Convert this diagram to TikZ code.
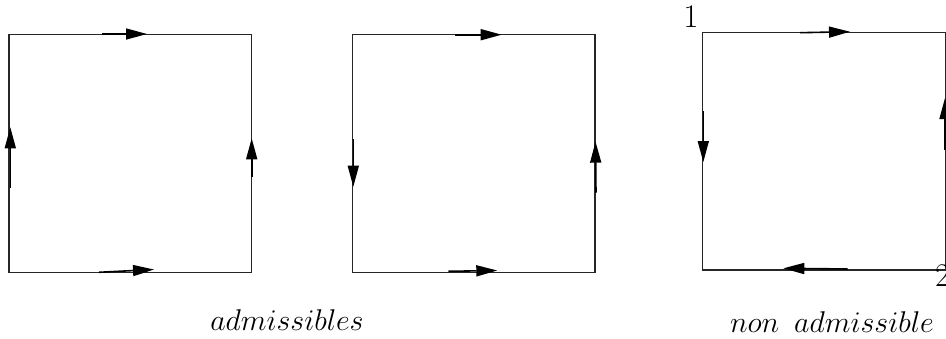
\documentclass[tikz,border=0pt]{standalone}
\DeclareFontShape{OML}{cmm}{m}{it}{<->cmmi12}{}
\usetikzlibrary{arrows.meta}
\begin{document}
\begin{tikzpicture}[x=1pt,y=-1pt,
  edge/.style={line width=1.1pt, black!85},
  arr/.style={line width=1.6pt, -{Triangle[length=21pt,width=11pt]}},
  lbl/.style={inner sep=0pt, anchor=base, font=\fontsize{30}{34}\selectfont},
  num/.style={inner sep=0pt, anchor=base, font=\fontsize{33}{38}\selectfont}]
\useasboundingbox (0,0) rectangle (946,338);
% square 1
\coordinate (a1) at (9,34.7); \coordinate (b1) at (251.7,272.3);
\draw[edge] (a1) rectangle (b1);
\draw[arr] (102,34) -- (147,34);
\draw[arr] (99,272.3) -- (154,269.5);
\draw[arr] (10.3,188) -- (10.3,127.3);
\draw[arr] (251.7,177) -- (251.7,138.3);
% square 2
\coordinate (a2) at (352.3,34.7); \coordinate (b2) at (595,272.3);
\draw[edge] (a2) rectangle (b2);
\draw[arr] (455,34.7) -- (501.7,34.7);
\draw[arr] (448.3,271.3) -- (497.3,270.5);
\draw[arr] (353.3,139.3) -- (353.3,186.7);
\draw[arr] (596,192.7) -- (595.5,141.7);
% square 3
\coordinate (a3) at (702.3,32.3); \coordinate (b3) at (945.3,270);
\draw[edge] (a3) rectangle (b3);
\draw[arr] (800,32.7) -- (850,31.7);
\draw[arr] (847.7,269) -- (783.3,268.3);
\draw[arr] (703.3,111) -- (703.3,162);
\draw[arr] (945,150) -- (945,98);
% labels
\node[num] (one) at (691,27) {1};
\node[num, anchor=base west] (two) at (935,286) {2};
\node[lbl] (adm) at (287,330) {$admissibles$};
\node[lbl] (nonadm) at (832,332) {$non$\hskip0.5em$admissible$};
\end{tikzpicture}
\end{document}
